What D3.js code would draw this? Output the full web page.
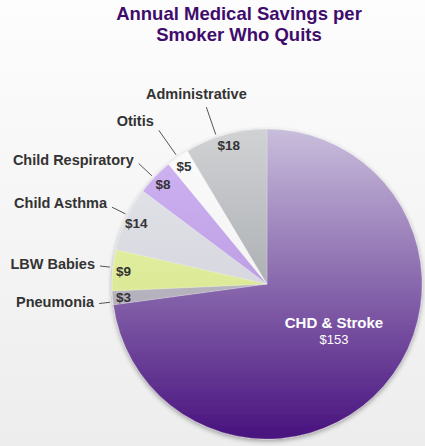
<!DOCTYPE html>
<html>
<head>
<meta charset="utf-8">
<script src="https://cdn.jsdelivr.net/npm/d3@7"></script>
<style>
  html, body { margin: 0; padding: 0; }
  body { width: 425px; height: 446px; overflow: hidden; font-family: "Liberation Sans", Arial, sans-serif; }
</style>
</head>
<body>
<div id="chart"></div>
<script>
var svgWidth = 425;
var svgHeight = 446;

// data
var categories = ["CHD & Stroke", "Pneumonia", "LBW Babies", "Child Asthma", "Child Respiratory", "Otitis", "Administrative"];
var savings = [153, 3, 9, 14, 8, 5, 18];
var valueLabels = ["$153", "$3", "$9", "$14", "$8", "$5", "$18"];
var titleLines = ["Annual Medical Savings per", "Smoker Who Quits"];

// slice colours, top of pie -> bottom of pie
var topColors = ["#c9bedc", "#c4c0cc", "#eaf5b2", "#e6e6ec", "#d2b6f4", "#fbfbfb", "#d0d2d4"];
var bottomColors = ["#48127e", "#a8a4b0", "#cfe07e", "#c8c8d2", "#a888d4", "#ececec", "#8c9094"];

// leader line: outer radius and angle shift (degrees) for each slice (CHD has none)
var leaderOuter = [0, 169, 168, 173, 176, 188, 187];
var leaderShift = [0, -1.5, 1, 1.5, -0.5, 0, -3.5];

var cx = 267, cy = 284, radius = 155;

var svg = d3.select("#chart")
    .append("svg")
    .attr("width", svgWidth)
    .attr("height", svgHeight);

var defs = svg.append("defs");

var bg = defs.append("linearGradient")
    .attr("id", "bg")
    .attr("x1", 0).attr("y1", 0).attr("x2", 0).attr("y2", 1);
bg.append("stop").attr("offset", 0).attr("stop-color", "#fdfdfd");
bg.append("stop").attr("offset", 1).attr("stop-color", "#ededed");

svg.append("rect")
    .attr("width", svgWidth)
    .attr("height", svgHeight)
    .attr("fill", "url(#bg)");

// slice gradients span the whole pie vertically
categories.forEach(function(c, i) {
    var g = defs.append("linearGradient")
        .attr("id", "grad" + i)
        .attr("gradientUnits", "userSpaceOnUse")
        .attr("x1", 0).attr("y1", -radius).attr("x2", 0).attr("y2", radius);
    g.append("stop").attr("offset", 0).attr("stop-color", topColors[i]);
    g.append("stop").attr("offset", 1).attr("stop-color", bottomColors[i]);
});

var shadow = defs.append("filter")
    .attr("id", "shadow")
    .attr("x", "-10%").attr("y", "-10%").attr("width", "120%").attr("height", "120%");
shadow.append("feGaussianBlur").attr("in", "SourceAlpha").attr("stdDeviation", 2.5);
shadow.append("feOffset").attr("dx", 0).attr("dy", 1.5).attr("result", "blur");
shadow.append("feComponentTransfer").append("feFuncA").attr("type", "linear").attr("slope", 0.35);
var merge = shadow.append("feMerge");
merge.append("feMergeNode");
merge.append("feMergeNode").attr("in", "SourceGraphic");

// Title
svg.append("g")
    .selectAll("text")
    .data(titleLines)
    .enter()
    .append("text")
    .attr("x", 239)
    .attr("y", (d, i) => 20 + i * 21)
    .attr("text-anchor", "middle")
    .attr("font-size", "18.5px")
    .attr("font-weight", "bold")
    .attr("fill", "#3f0c6c")
    .text(d => d);

var pieData = categories.map(function(c, i) {
    return { name: c, value: savings[i], label: valueLabels[i], idx: i };
});

var pie = d3.pie()
    .sort(null)
    .value(d => d.value);

var arcs = pie(pieData);

var arc = d3.arc()
    .innerRadius(0)
    .outerRadius(radius);

var chartGroup = svg.append("g")
    .attr("transform", `translate(${cx}, ${cy})`);

chartGroup.append("g")
    .attr("filter", "url(#shadow)")
    .selectAll("path")
    .data(arcs)
    .enter()
    .append("path")
    .attr("d", arc)
    .attr("fill", d => `url(#grad${d.data.idx})`)
    .attr("stroke", "rgba(255,255,255,0.35)")
    .attr("stroke-width", 0.6);

function pointAt(angle, r) {
    return [Math.sin(angle) * r, -Math.cos(angle) * r];
}

function midAngle(d) {
    return (d.startAngle + d.endAngle) / 2;
}

function leaderAngle(d) {
    return midAngle(d) + leaderShift[d.data.idx] * Math.PI / 180;
}

var small = arcs.filter(d => d.data.idx > 0);

// value labels inside the small slices
chartGroup.append("g")
    .selectAll("text")
    .data(small)
    .enter()
    .append("text")
    .attr("x", d => pointAt(midAngle(d), 144)[0])
    .attr("y", d => pointAt(midAngle(d), 144)[1])
    .attr("text-anchor", "middle")
    .attr("dy", "0.36em")
    .attr("font-size", "13.5px")
    .attr("font-weight", "bold")
    .attr("fill", "#333")
    .text(d => d.data.label);

// leader lines
chartGroup.append("g")
    .selectAll("line")
    .data(small)
    .enter()
    .append("line")
    .attr("x1", d => pointAt(leaderAngle(d), 158)[0])
    .attr("y1", d => pointAt(leaderAngle(d), 158)[1])
    .attr("x2", d => pointAt(leaderAngle(d), leaderOuter[d.data.idx])[0])
    .attr("y2", d => pointAt(leaderAngle(d), leaderOuter[d.data.idx])[1])
    .attr("stroke", "#555")
    .attr("stroke-width", 1);

// category labels
chartGroup.append("g")
    .selectAll("text")
    .data(small)
    .enter()
    .append("text")
    .attr("x", function(d) {
        var p = pointAt(leaderAngle(d), leaderOuter[d.data.idx]);
        return d.data.idx === 6 ? p[0] - 10 : p[0] - 5;
    })
    .attr("y", function(d) {
        var p = pointAt(leaderAngle(d), leaderOuter[d.data.idx]);
        if (d.data.idx === 6) return p[1] - 8;
        if (d.data.idx === 5) return p[1] - 4;
        if (d.data.idx <= 2) return p[1] + 3;
        return p[1] + 1;
    })
    .attr("text-anchor", d => d.data.idx === 6 ? "middle" : "end")
    .attr("font-size", "14.5px")
    .attr("font-weight", "bold")
    .attr("fill", "#333")
    .text(d => d.data.name);

// CHD & Stroke label inside its slice
var big = arcs[0];
var bigPos = pointAt(midAngle(big) - 0.07, 84);

chartGroup.append("text")
    .attr("x", bigPos[0])
    .attr("y", bigPos[1] - 7)
    .attr("text-anchor", "middle")
    .attr("font-size", "15px")
    .attr("font-weight", "bold")
    .attr("fill", "white")
    .text(big.data.name);

chartGroup.append("text")
    .attr("x", bigPos[0])
    .attr("y", bigPos[1] + 9)
    .attr("text-anchor", "middle")
    .attr("font-size", "13px")
    .attr("fill", "white")
    .text(big.data.label);
</script>
</body>
</html>
